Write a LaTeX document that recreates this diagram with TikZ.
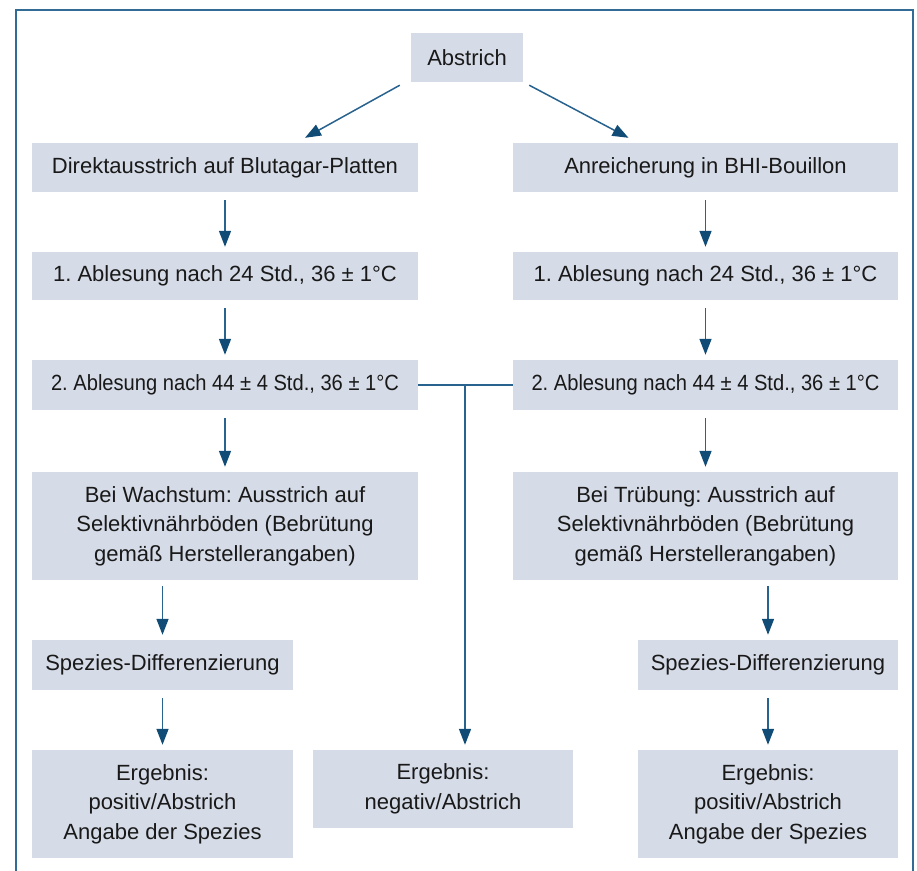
\documentclass[tikz,border=0pt]{standalone}
\usepackage{fontspec}
\usepackage{graphicx}
\setmainfont{Liberation Sans}
\usetikzlibrary{arrows.meta,calc}
\definecolor{boxfill}{RGB}{213,219,231}
\definecolor{linecol}{RGB}{40,98,142}
\definecolor{headcol}{RGB}{16,76,118}
\definecolor{framecol}{RGB}{50,108,150}
\definecolor{txt}{RGB}{25,25,25}
\begin{document}
\frenchspacing
\begin{tikzpicture}[x=1pt,y=-1pt,
  box/.style={fill=boxfill,inner sep=0pt,align=center,text=txt,
    font=\fontsize{22}{29.5}\selectfont\frenchspacing},
  arr/.style={draw=linecol,line width=1.5pt,
    -{Triangle[length=16pt,width=12pt,color=headcol]}},
  conn/.style={draw=linecol,line width=1.5pt},
  frame/.style={draw=framecol,line width=1.6pt}]
\useasboundingbox (0,0) rectangle (917,870);
\draw[frame] (16,872) -- (16,10) -- (913,10) -- (913,872);

\node[box,minimum width=112pt,minimum height=49pt] (abs) at (467,57.5) {Abstrich};
\node[box,minimum width=386pt,minimum height=49pt] (dir) at (225,167.5) {Direktausstrich auf Blutagar-Platten};
\node[box,minimum width=385pt,minimum height=49pt] (anr) at (705.5,167.5) {Anreicherung in BHI-Bouillon};
\node[box,minimum width=386pt,minimum height=48pt] (l1) at (225,276) {1. Ablesung nach 24 Std., 36 ± 1°C};
\node[box,minimum width=385pt,minimum height=48pt] (r1) at (705.5,276) {1. Ablesung nach 24 Std., 36 ± 1°C};
\node[box,minimum width=386pt,minimum height=50pt] (l2) at (225,385) {\scalebox{0.915}[1]{2. Ablesung nach 44 ± 4 Std., 36 ± 1°C}};
\node[box,minimum width=385pt,minimum height=50pt] (r2) at (705.5,385) {\scalebox{0.915}[1]{2. Ablesung nach 44 ± 4 Std., 36 ± 1°C}};
\node[box,minimum width=386pt,minimum height=108pt] (lw) at (225,526) {Bei Wachstum: Ausstrich auf\\Selektivnährböden (Bebrütung\\gemäß Herstellerangaben)};
\node[box,minimum width=385pt,minimum height=108pt] (rt) at (705.5,526) {Bei Trübung: Ausstrich auf\\Selektivnährböden (Bebrütung\\gemäß Herstellerangaben)};
\node[box,minimum width=261pt,minimum height=50pt] (ls) at (162.5,665) {Spezies-Differenzierung};
\node[box,minimum width=260pt,minimum height=50pt] (rs) at (768,665) {Spezies-Differenzierung};
\node[box,minimum width=261pt,minimum height=108pt] (le) at (162.5,804) {Ergebnis:\\positiv/Abstrich\\Angabe der Spezies};
\node[box,minimum width=260pt,minimum height=78pt] (me) at (443,789) {Ergebnis:\\negativ/Abstrich};
\node[box,minimum width=260pt,minimum height=108pt] (re) at (768,804) {Ergebnis:\\positiv/Abstrich\\Angabe der Spezies};

\draw[arr] ([xshift=-11pt,yshift=-3pt]abs.south west) -- ([xshift=80pt,yshift=5pt]dir.north);
\draw[arr] ([xshift=6pt,yshift=-3pt]abs.south east) -- ([xshift=-77pt,yshift=5pt]anr.north);

\draw[arr] ([yshift=-8pt]dir.south) -- ([yshift=5pt]l1.north);
\draw[arr] ([yshift=-8pt]l1.south) -- ([yshift=5pt]l2.north);
\draw[arr] ([yshift=-8pt]l2.south) -- ([yshift=5pt]lw.north);
\draw[arr] ([yshift=-6pt]lw.south -| ls.north) -- ([yshift=5pt]ls.north);
\draw[arr] ([yshift=-8pt]ls.south) -- ([yshift=5pt]le.north);

\draw[arr] ([yshift=-8pt]anr.south) -- ([yshift=5pt]r1.north);
\draw[arr] ([yshift=-8pt]r1.south) -- ([yshift=5pt]r2.north);
\draw[arr] ([yshift=-8pt]r2.south) -- ([yshift=5pt]rt.north);
\draw[arr] ([yshift=-6pt]rt.south -| rs.north) -- ([yshift=5pt]rs.north);
\draw[arr] ([yshift=-8pt]rs.south) -- ([yshift=5pt]re.north);

\draw[conn] (l2.east) -- (r2.west);
\coordinate (j) at (465,385);
\draw[arr] (j) -- ([yshift=5pt]j |- me.north);
\end{tikzpicture}
\end{document}
